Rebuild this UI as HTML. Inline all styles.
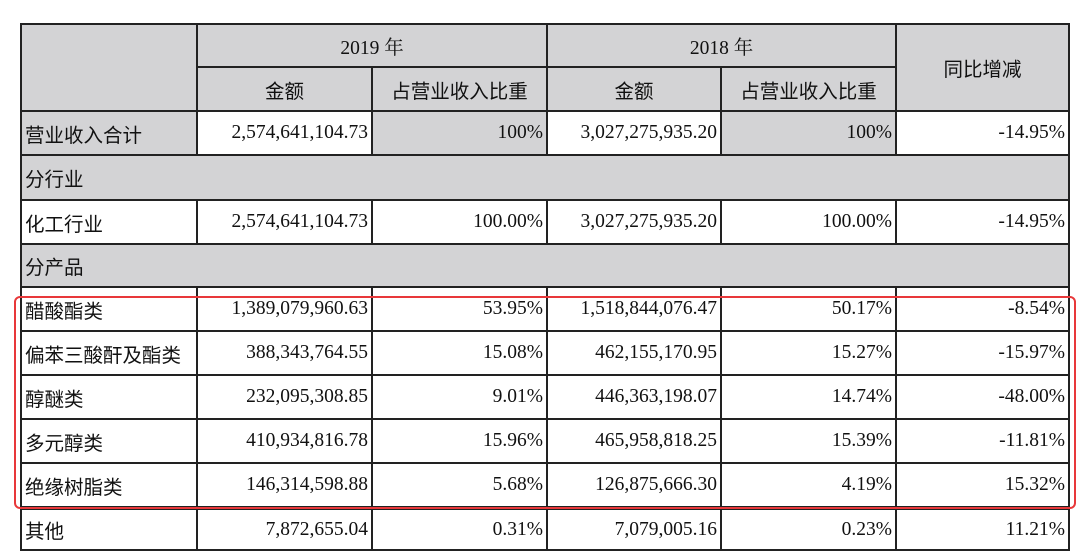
<!DOCTYPE html>
<html><head><meta charset="utf-8"><style>
html,body{margin:0;padding:0;background:#fff;width:1080px;height:559px;overflow:hidden;position:relative}
table{position:absolute;left:20px;top:23px;border-collapse:collapse;table-layout:fixed;width:1048px}
td{border:2px solid #222;padding:0 3px;font-family:"Liberation Serif","Noto Serif CJK SC",serif;font-size:19.5px;color:#111;white-space:nowrap;overflow:hidden}
.g{background:#d3d3d5}
.w{background:#fff}
.c{text-align:center}
.r{text-align:right}
.l{text-align:left;font-family:"Liberation Sans","Noto Sans CJK SC",sans-serif;font-size:19.5px}
.h{font-family:"Liberation Sans","Noto Sans CJK SC",sans-serif;font-size:19.5px}
tr.dbl td{border-top:4px double #222}
#box{position:absolute;left:14px;top:296px;width:1062px;height:213px;border:2px solid #e8383a;border-radius:6px;box-sizing:border-box}
</style></head><body>
<table>
<colgroup><col style="width:176px"><col style="width:175px"><col style="width:175px"><col style="width:174px"><col style="width:175px"><col style="width:173px"></colgroup>
<tr style="height:43px">
<td class="g" rowspan="2"></td>
<td class="g c" colspan="2">2019 年</td>
<td class="g c" colspan="2">2018 年</td>
<td class="g c h" rowspan="2">同比增减</td></tr>
<tr style="height:44px">
<td class="g c h">金额</td>
<td class="g c h">占营业收入比重</td>
<td class="g c h">金额</td>
<td class="g c h">占营业收入比重</td></tr>
<tr style="height:44px">
<td class="g l">营业收入合计</td>
<td class="w r">2,574,641,104.73</td>
<td class="g r">100%</td>
<td class="w r">3,027,275,935.20</td>
<td class="g r">100%</td>
<td class="w r">-14.95%</td></tr>
<tr style="height:45px">
<td class="g l" colspan="6">分行业</td></tr>
<tr style="height:44px">
<td class="w l">化工行业</td>
<td class="w r">2,574,641,104.73</td>
<td class="w r">100.00%</td>
<td class="w r">3,027,275,935.20</td>
<td class="w r">100.00%</td>
<td class="w r">-14.95%</td></tr>
<tr style="height:43px">
<td class="g l" colspan="6">分产品</td></tr>
<tr style="height:44px">
<td class="w l">醋酸酯类</td>
<td class="w r">1,389,079,960.63</td>
<td class="w r">53.95%</td>
<td class="w r">1,518,844,076.47</td>
<td class="w r">50.17%</td>
<td class="w r">-8.54%</td></tr>
<tr style="height:44px">
<td class="w l">偏苯三酸酐及酯类</td>
<td class="w r">388,343,764.55</td>
<td class="w r">15.08%</td>
<td class="w r">462,155,170.95</td>
<td class="w r">15.27%</td>
<td class="w r">-15.97%</td></tr>
<tr style="height:44px">
<td class="w l">醇醚类</td>
<td class="w r">232,095,308.85</td>
<td class="w r">9.01%</td>
<td class="w r">446,363,198.07</td>
<td class="w r">14.74%</td>
<td class="w r">-48.00%</td></tr>
<tr style="height:44px">
<td class="w l">多元醇类</td>
<td class="w r">410,934,816.78</td>
<td class="w r">15.96%</td>
<td class="w r">465,958,818.25</td>
<td class="w r">15.39%</td>
<td class="w r">-11.81%</td></tr>
<tr style="height:45px">
<td class="w l">绝缘树脂类</td>
<td class="w r">146,314,598.88</td>
<td class="w r">5.68%</td>
<td class="w r">126,875,666.30</td>
<td class="w r">4.19%</td>
<td class="w r">15.32%</td></tr>
<tr class="dbl" style="height:42px">
<td class="w l">其他</td>
<td class="w r">7,872,655.04</td>
<td class="w r">0.31%</td>
<td class="w r">7,079,005.16</td>
<td class="w r">0.23%</td>
<td class="w r">11.21%</td></tr>
</table>
<div id="box"></div>
</body></html>
